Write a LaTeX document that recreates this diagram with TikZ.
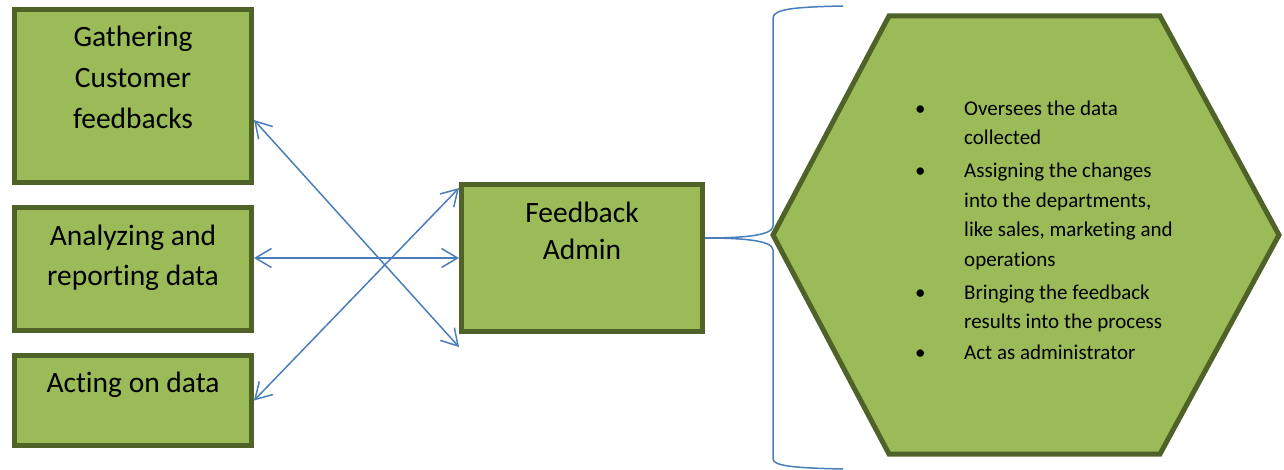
\documentclass[tikz,border=0pt]{standalone}
\usepackage{fontspec}
\setmainfont[Ligatures=NoCommon]{Carlito}
\usetikzlibrary{arrows.meta,positioning}
\definecolor{boxfill}{HTML}{9BBB59}
\definecolor{boxline}{HTML}{4F6228}
\definecolor{linkblue}{HTML}{4A7EBB}

\begin{document}
\begin{tikzpicture}[x=1pt,y=-1pt,
  box/.style={draw=boxline,fill=boxfill,line width=5pt,minimum width=237pt,inner sep=0pt},
  boxtext/.style={inner sep=0pt,align=center,font=\fontsize{29.5}{41}\selectfont},
  link/.style={linkblue,line width=1.5pt,{Straight Barb[length=16pt,width=19pt]}-{Straight Barb[length=16pt,width=19pt]}}]
\useasboundingbox (0,0) rectangle (1284,470);
\node[box,minimum height=173pt] (gather) at (133,96) {};
\node[box,minimum height=123pt] (analyze) at (133,269) {};
\node[box,minimum height=90pt] (act) at (133,400.5) {};
\node[box,minimum width=241pt,minimum height=147pt] (admin) at (582,258) {};
\node[boxtext,below=19pt of gather.north] (gathertext) {Gathering\\Customer\\feedbacks};
\node[boxtext,below=20pt of analyze.north,font=\fontsize{29.5}{40}\selectfont] (analyzetext) {Analyzing and\\reporting data};
\node[boxtext,below=19pt of act.north] (acttext) {Acting on data};
\node[boxtext,below=20pt of admin.north,font=\fontsize{29.5}{37}\selectfont] (admintext) {Feedback\\Admin};
\draw[link] ([yshift=-24pt]gather.east) -- ([yshift=-13pt]admin.south west);
\draw[link] (admin.west -| analyze.east) -- (admin.west);
\draw[link] (act.east) -- ([yshift=-6pt]admin.north west);
\draw[boxline,fill=boxfill,line width=5pt] (773,235) -- (889,16) -- (1160,16) -- (1279,235) -- (1160,454) -- (889,454) -- cycle;
\node[anchor=north west,inner sep=0pt,font=\fontsize{21}{29.5}\selectfont] (duties) at (915,94.3)
 {\begin{tabular}{@{}p{49pt}@{}l@{}}
  \textbullet & Oversees the data\\
   & collected\\[3.5pt]
  \textbullet & Assigning the changes\\
   & into the departments,\\
   & like sales, marketing and\\
   & operations\\[3.5pt]
  \textbullet & Bringing the feedback\\
   & results into the process\\[1pt]
  \textbullet & Act as administrator
 \end{tabular}};
\coordinate (tip) at ([yshift=20pt]admin.east);
\draw[linkblue,line width=1.5pt] (tip) .. controls (740,238) and (773,236) .. (773,226) -- (773,18)
  .. controls (773,9) and (795,7) .. (843,6);
\draw[linkblue,line width=1.5pt] (tip) .. controls (740,238) and (773,240) .. (773,250) -- (773,459)
  .. controls (773,466) and (795,468) .. (843,469);
\end{tikzpicture}
\end{document}
